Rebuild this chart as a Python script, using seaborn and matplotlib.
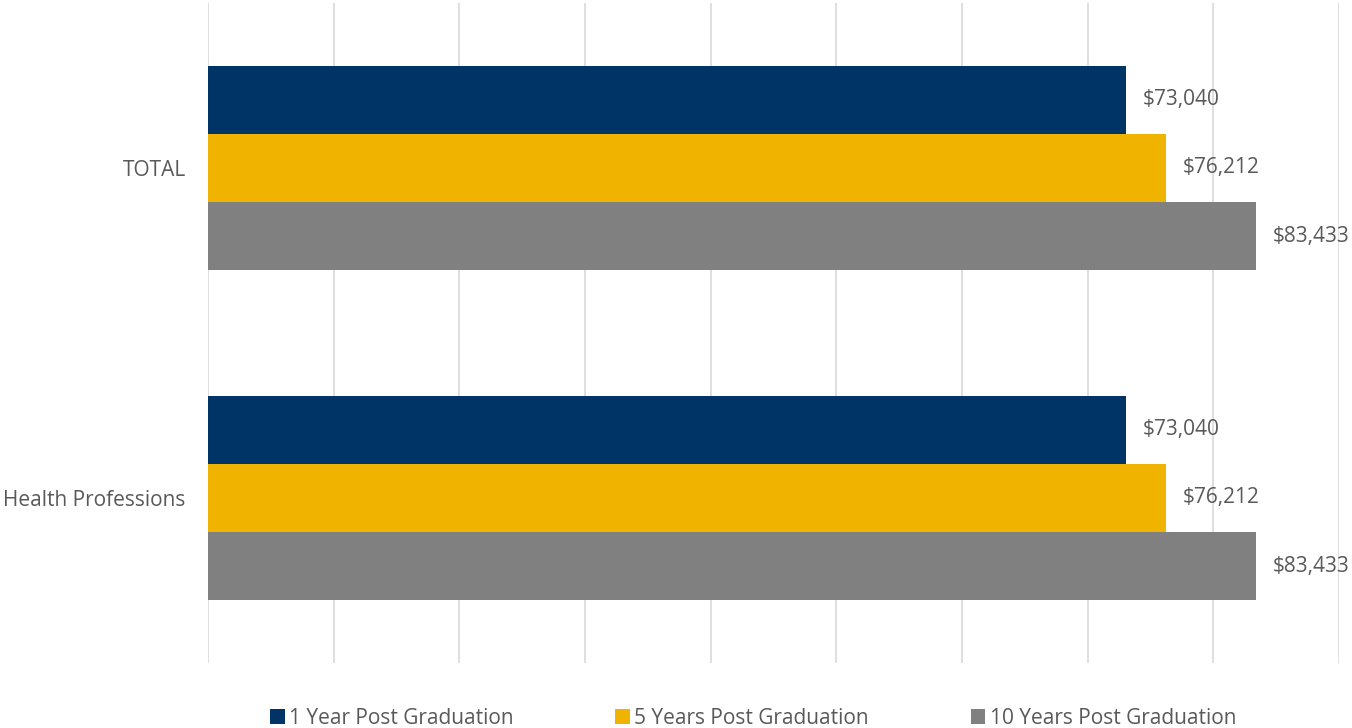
import pandas as pd
import matplotlib.pyplot as plt
import seaborn as sns
from matplotlib.patches import Patch

# Chart data
categories = ["TOTAL", "Health Professions"]
periods = ["1 Year Post Graduation", "5 Years Post Graduation", "10 Years Post Graduation"]
salary_1yr = [73040, 73040]
salary_5yr = [76212, 76212]
salary_10yr = [83433, 83433]
colors = ["#003366", "#F0B400", "#808080"]

df = pd.DataFrame({
    "category": categories * 3,
    "period": [periods[0]] * 2 + [periods[1]] * 2 + [periods[2]] * 2,
    "salary": salary_1yr + salary_5yr + salary_10yr,
})

sns.set_theme(style="white")
plt.rcParams.update({
    "figure.facecolor": "white",
    "axes.facecolor": "white",
    "font.size": 15,
})
plt.rcParams["font.family"] = ["Open Sans", "DejaVu Sans"]

text_color = "#595959"

fig = plt.figure(figsize=(13.52, 7.28), dpi=100)
ax = fig.add_axes([0.1538, 0.0893, 0.8366, 0.9067])

sns.barplot(data=df, y="category", x="salary", hue="period", order=categories,
            hue_order=periods, palette=colors, orient="h", width=0.62, gap=0,
            saturation=1, linewidth=0, ax=ax, legend=False)

for cont in ax.containers:
    ax.bar_label(cont, labels=[f"${v:,.0f}" for v in cont.datavalues],
                 padding=12, color=text_color, fontsize=15)

ax.set_xlim(0, 90000)
ax.set_ylim(1.5, -0.5)
ax.set_xticks(range(0, 90001, 10000))
ax.set_xticklabels([])
ax.xaxis.grid(True, color="#D9D9D9", linewidth=1.2)
ax.set_axisbelow(True)
for s in ax.spines.values():
    s.set_visible(False)
ax.tick_params(axis="y", length=0, pad=16, labelsize=15, labelcolor=text_color)
ax.tick_params(axis="x", length=0)
ax.set_xlabel("")
ax.set_ylabel("")

handles = [Patch(facecolor=c, edgecolor="none", label=p) for c, p in zip(colors, periods)]
fig.legend(handles=handles, loc="lower center", bbox_to_anchor=(0.557, -0.027), ncol=3,
           frameon=False, fontsize=15, labelcolor=text_color, handlelength=0.7,
           handleheight=0.7, handletextpad=0.2, columnspacing=4.9)

fig.savefig("out.png", dpi=100)
plt.close(fig)
